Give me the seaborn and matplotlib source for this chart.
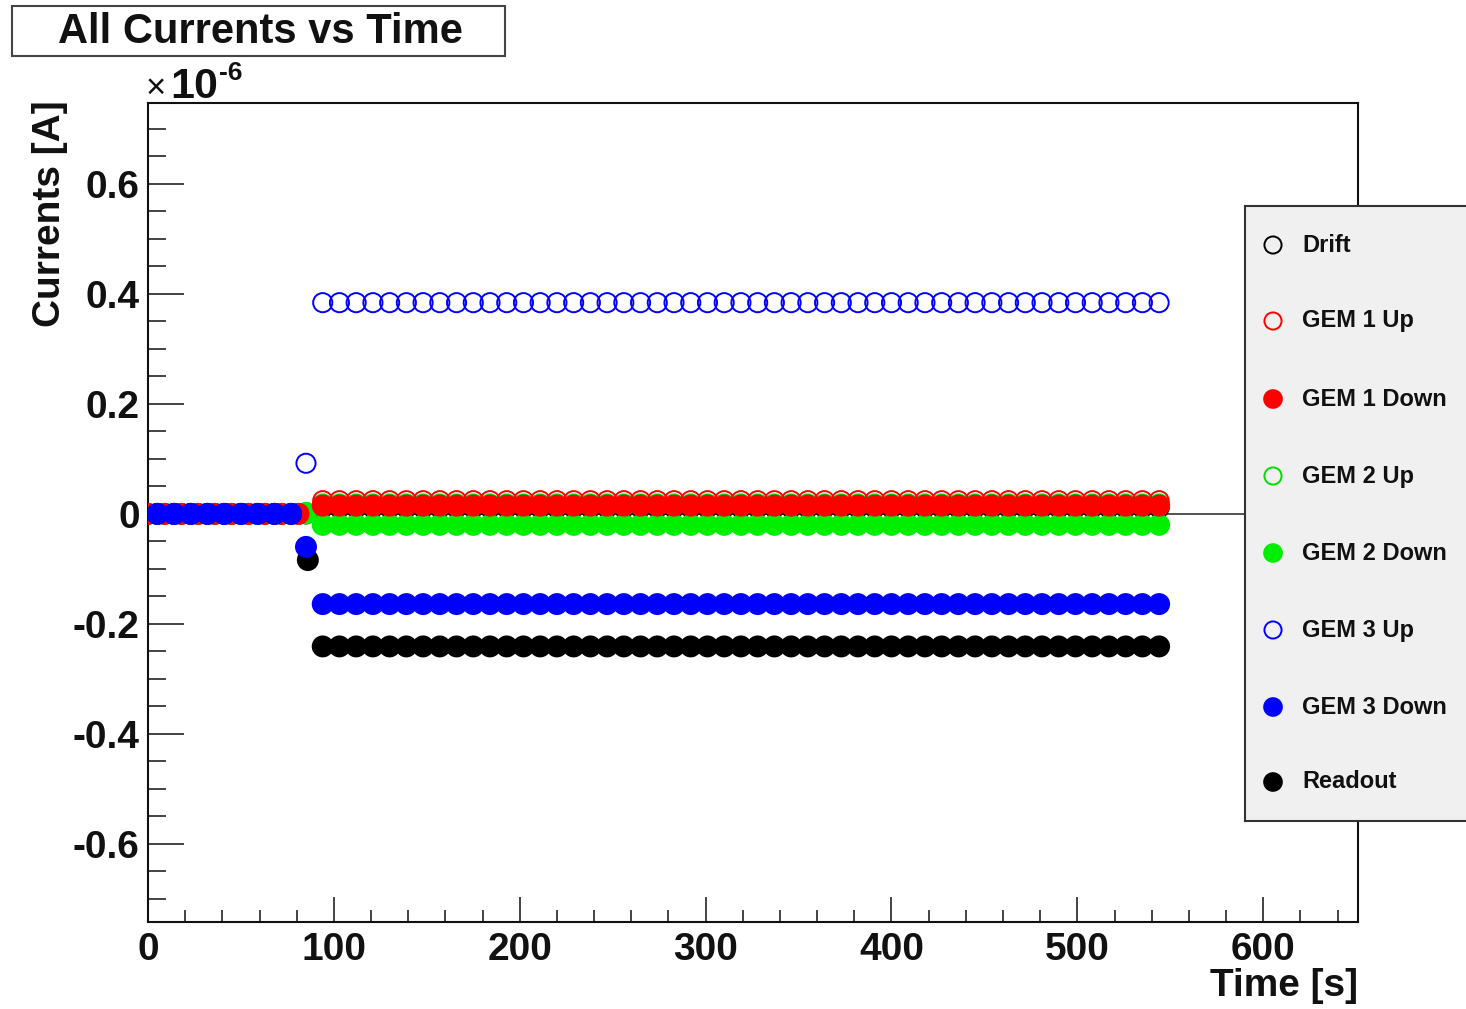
import matplotlib
matplotlib.use("Agg")
import matplotlib.pyplot as plt
from matplotlib.patches import Rectangle
from matplotlib.ticker import MultipleLocator, FuncFormatter
import pandas as pd
import seaborn as sns

# ---- sample times [s] ----
t_ramp_a = [0, 9, 18, 27, 36, 45, 54, 63, 72, 81]
t_ramp_b = [5, 14, 23, 32, 41, 50, 59, 68, 77]
t_run = [94, 103, 112, 121, 130, 139, 148, 157, 166, 175, 184, 193, 202,
         211, 220, 229, 238, 247, 256, 265, 274, 283, 292, 301, 310, 319,
         328, 337, 346, 355, 364, 373, 382, 391, 400, 409, 418, 427, 436,
         445, 454, 463, 472, 481, 490, 499, 508, 517, 526, 535, 544]

# ---- currents, in units of 1e-6 A ----
drift_t = t_ramp_a + [85] + t_run
drift_i = [0.0] * 10 + [0.0] + [0.011] * 51

gem1_up_t = t_ramp_a + t_run
gem1_up_i = [0.0] * 10 + [0.024] * 51

gem1_down_t = t_ramp_a + t_run
gem1_down_i = [0.0] * 10 + [0.015] * 51

gem2_up_t = t_ramp_a + [85] + t_run
gem2_up_i = [0.0] * 10 + [0.0] + [0.018] * 51

gem2_down_t = t_ramp_a + [85] + t_run
gem2_down_i = [0.0] * 10 + [0.002] + [-0.020] * 51

gem3_up_t = t_ramp_b + [85] + t_run
gem3_up_i = [0.0] * 9 + [0.092] + [0.384] * 51

gem3_down_t = t_ramp_b + [85] + t_run
gem3_down_i = [0.0] * 9 + [-0.060] + [-0.164] * 51

readout_t = t_ramp_b + [86] + t_run
readout_i = [0.0] * 9 + [-0.084] + [-0.241] * 51

channels = ["Drift", "GEM 1 Up", "GEM 1 Down", "GEM 2 Up",
            "GEM 2 Down", "GEM 3 Up", "GEM 3 Down", "Readout"]
channel_data = {
    "Drift": (drift_t, drift_i),
    "GEM 1 Up": (gem1_up_t, gem1_up_i),
    "GEM 1 Down": (gem1_down_t, gem1_down_i),
    "GEM 2 Up": (gem2_up_t, gem2_up_i),
    "GEM 2 Down": (gem2_down_t, gem2_down_i),
    "GEM 3 Up": (gem3_up_t, gem3_up_i),
    "GEM 3 Down": (gem3_down_t, gem3_down_i),
    "Readout": (readout_t, readout_i),
}

frames = []
for name in channels:
    t, i = channel_data[name]
    frames.append(pd.DataFrame({"time": t, "current": i, "channel": name}))
df = pd.concat(frames, ignore_index=True)

# marker colour, filled?, drawing order
style = {
    "Drift": ("#000000", False, 2),
    "GEM 1 Up": ("#ff0000", False, 7),
    "GEM 1 Down": ("#ff0000", True, 6),
    "GEM 2 Up": ("#00dd00", False, 3),
    "GEM 2 Down": ("#00ee00", True, 5),
    "GEM 3 Up": ("#0000ff", False, 8),
    "GEM 3 Down": ("#0000ff", True, 10),
    "Readout": ("#000000", True, 9),
}

sns.set_theme(style="white")
plt.rcParams["font.family"] = ["Liberation Sans", "DejaVu Sans"]
plt.rcParams["axes.unicode_minus"] = False

W, H = 1466, 1009
fig = plt.figure(figsize=(W / 100, H / 100), dpi=100, facecolor="white")

# plot frame in pixel geometry
L, R, T, B = 148, 1358, 103, 922
ax = fig.add_axes([L / W, 1 - B / H, (R - L) / W, (B - T) / H])
ax.set_facecolor("white")

FILLED_S = 250
HOLLOW_S = 190
HOLLOW_LW = 1.4
for name in channels:
    color, filled, z = style[name]
    sub = df[df["channel"] == name]
    if filled:
        sns.scatterplot(data=sub, x="time", y="current", ax=ax, marker="o",
                        s=FILLED_S, color=color, edgecolor="none",
                        linewidth=0, zorder=z, legend=False)
    else:
        sns.scatterplot(data=sub, x="time", y="current", ax=ax, marker="o",
                        s=HOLLOW_S, facecolors="none", edgecolors=color,
                        linewidth=HOLLOW_LW, zorder=z, legend=False)

ax.axhline(0, color="#444444", lw=1.3, zorder=1)

ax.set_xlim(0, 651)
ax.set_ylim(-0.742, 0.747)

ax.xaxis.set_major_locator(MultipleLocator(100))
ax.xaxis.set_minor_locator(MultipleLocator(20))
ax.yaxis.set_major_locator(MultipleLocator(0.2))
ax.yaxis.set_minor_locator(MultipleLocator(0.05))
ax.xaxis.set_major_formatter(FuncFormatter(lambda v, _: f"{v:.0f}"))
ax.yaxis.set_major_formatter(
    FuncFormatter(lambda v, _: "0" if abs(v) < 1e-9 else f"{v:.1f}"))

ax.tick_params(axis="x", which="major", direction="in", length=18,
               width=1.1, color="#111111", pad=7, labelsize=28,
               bottom=True, top=False)
ax.tick_params(axis="x", which="minor", direction="in", length=9,
               width=1.1, color="#111111", bottom=True, top=False)
ax.tick_params(axis="y", which="major", direction="in", length=26,
               width=1.1, color="#111111", pad=6, labelsize=28,
               left=True, right=False)
ax.tick_params(axis="y", which="minor", direction="in", length=13,
               width=1.1, color="#111111", left=True, right=False)
for lab in ax.get_xticklabels() + ax.get_yticklabels():
    lab.set_fontweight("bold")
    lab.set_color("#111111")

for sp in ax.spines.values():
    sp.set_visible(True)
    sp.set_color("#111111")
    sp.set_linewidth(1.5)

ax.set_xlabel("Time [s]", fontsize=28, fontweight="bold", color="#111111")
ax.xaxis.set_label_coords(1.0, (B - 968) / (B - T))
ax.xaxis.label.set(ha="right", va="top")

ax.set_ylabel("Currents [A]", fontsize=28, fontweight="bold",
              color="#111111")
ax.yaxis.set_label_coords((50 - L) / (R - L), (B - 100) / (B - T))
ax.yaxis.label.set(rotation_mode="default", ha="center", va="top")

# axis exponent
fig.text(146 / W, 1 - 98 / H, "\u00d7", fontsize=25, va="baseline",
         ha="left", color="#111111")
fig.text(170 / W, 1 - 98 / H, "10", fontsize=31, fontweight="bold",
         va="baseline", ha="left", color="#111111")
fig.text(219 / W, 1 - 80 / H, "-6", fontsize=19, fontweight="bold",
         va="baseline", ha="left", color="#111111")

# title box
fig.patches.append(Rectangle((12 / W, 1 - 56 / H), 493 / W, 50 / H,
                             transform=fig.transFigure, facecolor="white",
                             edgecolor="#444444", linewidth=1.5))
fig.text(260 / W, 1 - 32 / H, "All Currents vs Time", fontsize=30,
         fontweight="bold", ha="center", va="center", color="#111111")

# legend panel
LL, LT, LB = 1245, 206, 821
lax = fig.add_axes([LL / W, 1 - LB / H, (W + 10 - LL) / W, (LB - LT) / H])
lax.set_facecolor("#f0f0f0")
lax.set_xlim(LL, W + 10)
lax.set_ylim(LB, LT)
lax.set_xticks([])
lax.set_yticks([])
for k, sp in lax.spines.items():
    sp.set_color("#333333")
    sp.set_linewidth(1.5)
lax.spines["right"].set_visible(False)

rows = [245, 321, 399, 476, 553, 630, 707, 782]
for name, y in zip(channels, rows):
    color, filled, _ = style[name]
    if filled:
        lax.scatter([1273], [y], s=FILLED_S * 0.8, color=color,
                    edgecolor="none", linewidth=0)
    else:
        lax.scatter([1273], [y], s=HOLLOW_S * 0.8, facecolors="none",
                    edgecolors=color, linewidth=HOLLOW_LW)
    lax.text(1302, y, name, fontsize=17, fontweight="bold",
             ha="left", va="center", color="#111111")

fig.savefig("out.png", dpi=100, facecolor="white")
